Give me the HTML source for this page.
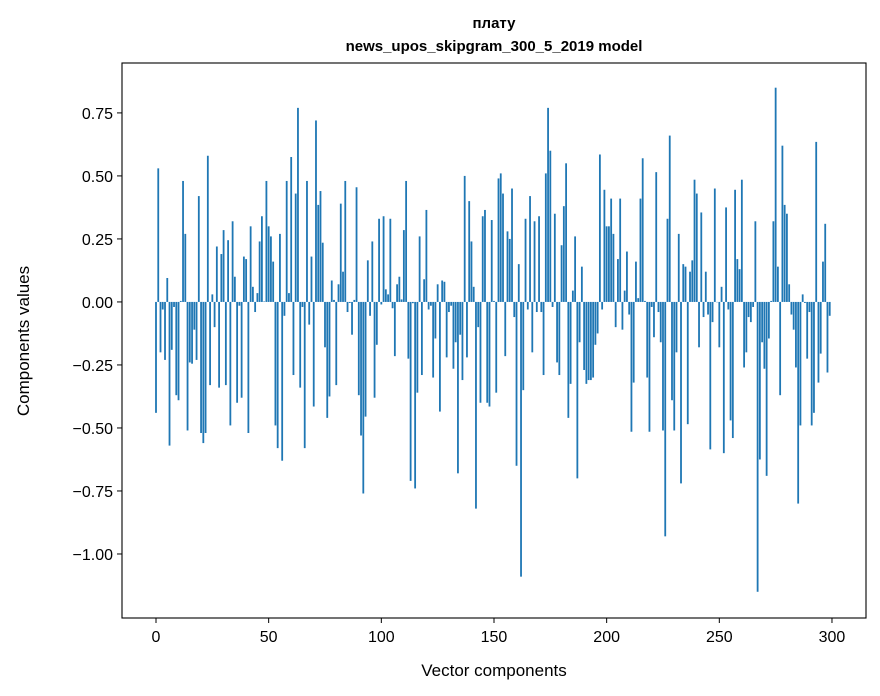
<!DOCTYPE html>
<html><head><meta charset="utf-8"><style>
html,body{margin:0;padding:0;background:#fff;}
svg{display:block;font-family:"Liberation Sans","DejaVu Sans",sans-serif;}
</style></head><body>
<svg id="chart" width="880" height="696" viewBox="0 0 880 696" xmlns="http://www.w3.org/2000/svg">
<rect x="0" y="0" width="880" height="696" fill="#fff"/>
<text x="494" y="28" text-anchor="middle" font-size="15" font-weight="bold">плату</text>
<text x="494" y="51" text-anchor="middle" font-size="15" font-weight="bold">news_upos_skipgram_300_5_2019 model</text>
<g id="bars"></g>
<g id="xticks"></g>
<g id="yticks"></g>
<rect x="122" y="63" width="744" height="555" fill="none" stroke="#000" stroke-width="1.1"/>
<text x="494" y="676" text-anchor="middle" font-size="17">Vector components</text>
<text transform="translate(29,341) rotate(-90)" text-anchor="middle" font-size="17">Components values</text>
</svg>
<script>
const values = [
-0.44,0.53,-0.20,-0.03,-0.23,0.095,-0.57,-0.19,-0.02,-0.37,
-0.39,0.004,0.48,0.27,-0.51,-0.24,-0.245,-0.11,-0.23,0.42,
-0.52,-0.56,-0.52,0.58,-0.33,0.03,-0.10,0.22,-0.34,0.19,
0.285,-0.33,0.245,-0.49,0.32,0.10,-0.40,-0.015,-0.38,0.18,
0.17,-0.52,0.30,0.06,-0.04,0.035,0.24,0.34,0.002,0.48,
0.30,0.26,0.16,-0.49,-0.58,0.27,-0.63,-0.055,0.48,0.035,
0.575,-0.29,0.43,0.77,-0.34,-0.02,-0.58,0.48,-0.09,0.18,
-0.415,0.72,0.385,0.44,0.235,-0.18,-0.46,-0.375,0.085,0.008,
-0.33,0.07,0.39,0.12,0.48,-0.04,-0.004,-0.13,0.008,0.455,
-0.37,-0.53,-0.76,-0.455,0.165,-0.055,0.24,-0.38,-0.17,0.33,
-0.01,0.34,0.05,0.03,0.33,-0.025,-0.215,0.07,0.10,0.01,
0.285,0.48,-0.225,-0.71,-0.005,-0.74,-0.36,0.26,-0.29,0.09,
0.365,-0.03,-0.015,-0.30,-0.145,0.07,-0.435,0.085,0.08,-0.22,
-0.04,-0.015,-0.265,-0.16,-0.68,-0.13,-0.31,0.50,-0.22,0.40,
0.24,0.06,-0.82,-0.10,-0.40,0.34,0.365,-0.40,-0.415,0.325,
0.004,-0.36,0.49,0.51,0.43,-0.215,0.28,0.25,0.45,-0.06,
-0.65,0.15,-1.09,-0.35,0.33,-0.03,0.42,-0.20,0.32,-0.04,
0.34,-0.04,-0.29,0.51,0.77,0.60,-0.02,0.35,-0.24,-0.29,
0.225,0.38,0.55,-0.46,-0.325,0.045,0.26,-0.70,-0.16,0.14,
-0.27,-0.325,-0.31,-0.31,-0.30,-0.17,-0.125,0.585,-0.03,0.445,
0.30,0.30,0.41,0.27,-0.10,0.17,0.41,-0.11,0.045,0.20,
-0.05,-0.515,-0.32,0.16,0.015,0.41,0.57,0.004,-0.30,-0.515,
-0.02,-0.14,0.515,-0.04,-0.16,-0.51,-0.93,0.33,0.66,-0.39,
-0.51,-0.20,0.27,-0.72,0.15,0.14,-0.485,0.12,0.165,0.485,
0.43,-0.18,0.355,-0.06,0.12,-0.05,-0.585,-0.08,0.45,0.0,
-0.18,0.06,-0.60,0.375,-0.03,-0.47,-0.54,0.445,0.17,0.13,
0.485,-0.26,-0.20,-0.06,-0.08,-0.02,0.32,-1.15,-0.625,-0.16,
-0.265,-0.69,-0.145,0.004,0.32,0.85,0.14,-0.37,0.62,0.385,
0.35,0.07,-0.05,-0.11,-0.26,-0.80,-0.49,0.03,-0.004,-0.225,
-0.04,-0.49,-0.44,0.635,-0.32,-0.205,0.16,0.31,-0.28,-0.055
];
const xTicks = [0,50,100,150,200,250,300];
const yTicks = [0.75,0.50,0.25,0.00,-0.25,-0.50,-0.75,-1.00];
const yTickLabels = ["0.75","0.50","0.25","0.00","\u22120.25","\u22120.50","\u22120.75","\u22121.00"];

const NS="http://www.w3.org/2000/svg";
const X0=122,X1=866,Y0=63,Y1=618;
const xMin=-15.09,xMax=315.1,yMin=-1.254,yMax=0.948;
function xs(v){return X0+(v-xMin)/(xMax-xMin)*(X1-X0);}
function ys(v){return Y1-(v-yMin)/(yMax-yMin)*(Y1-Y0);}
function mk(tag,attrs){const e=document.createElementNS(NS,tag);for(const k in attrs)e.setAttribute(k,attrs[k]);return e;}

const barsG=document.getElementById('bars');
const bw=(xs(0.8)-xs(0));
values.forEach((v,i)=>{
  const y0=ys(0),y=ys(v);
  const r=mk('rect',{x:xs(i)-bw/2,y:Math.min(y0,y),width:bw,height:Math.max(Math.abs(y-y0),0.3),fill:'#1f77b4'});
  
  
  barsG.appendChild(r);
});

const xg=document.getElementById('xticks');
xTicks.forEach(t=>{
  const x=xs(t);
  const l=mk('line',{x1:x,x2:x,y1:Y1,y2:Y1+5,stroke:'#000','stroke-width':1});
  
  
  xg.appendChild(l);
  const tx=mk('text',{x:x,y:Y1+24,'text-anchor':'middle','font-size':16});
  
  
  tx.textContent=String(t);
  xg.appendChild(tx);
});
const yg=document.getElementById('yticks');
yTicks.forEach((t,i)=>{
  const y=ys(t);
  const l=mk('line',{x1:X0-5,x2:X0,y1:y,y2:y,stroke:'#000','stroke-width':1});
  
  
  yg.appendChild(l);
  const tx=mk('text',{x:X0-9,y:y+6,'text-anchor':'end','font-size':16});
  
  
  tx.textContent=yTickLabels[i];
  yg.appendChild(tx);
});
</script>
</body></html>
